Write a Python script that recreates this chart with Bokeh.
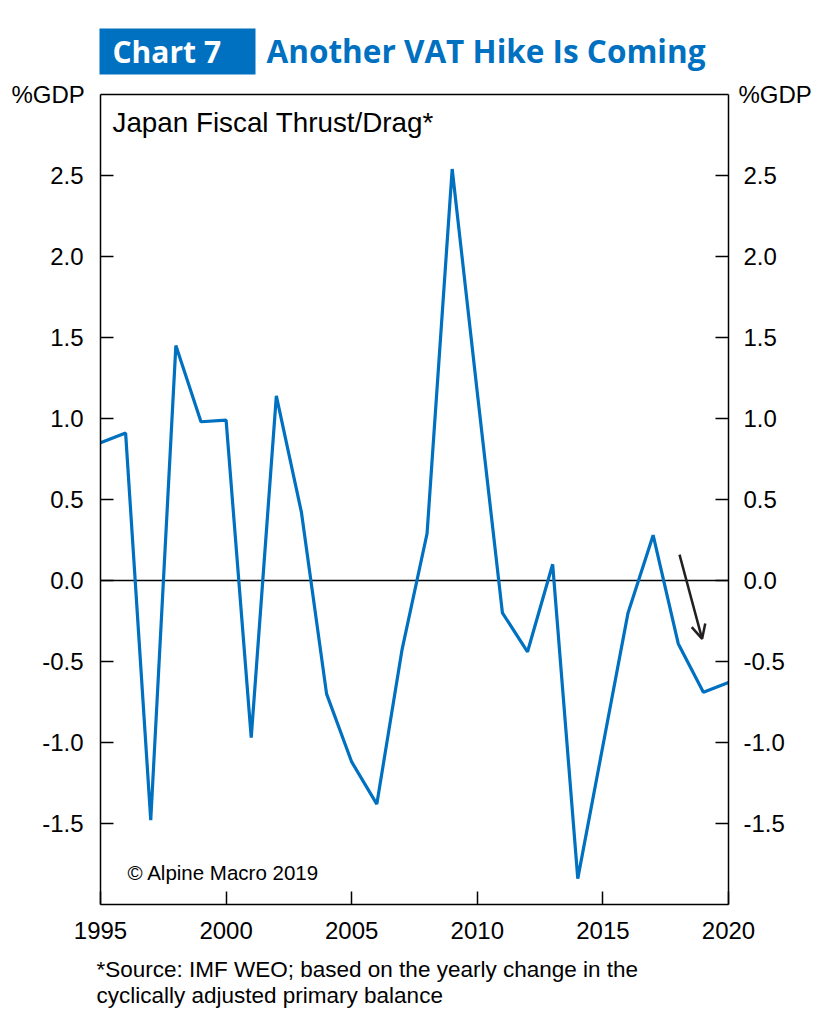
from bokeh.plotting import figure
from bokeh.models import (Range1d, LinearAxis, FixedTicker, Label, Arrow,
                          OpenHead, ColumnDataSource, BoxAnnotation)
from bokeh.embed import file_html
from bokeh.resources import INLINE

# ---------------- data ----------------
years = [1995, 1996, 1997, 1998, 1999, 2000, 2001, 2002, 2003, 2004,
         2005, 2006, 2007, 2008, 2009, 2010, 2011, 2012, 2013, 2014,
         2015, 2016, 2017, 2018, 2019, 2020]
thrust = [0.85, 0.91, -1.48, 1.45, 0.98, 0.99, -0.97, 1.14, 0.42, -0.70,
          -1.12, -1.38, -0.43, 0.29, 2.54, 1.16, -0.20, -0.44, 0.10, -1.84,
          -1.02, -0.20, 0.28, -0.39, -0.69, -0.63]
y_ticks = [-1.5, -1.0, -0.5, 0.0, 0.5, 1.0, 1.5, 2.0, 2.5]
y_tick_labels = ["-1.5", "-1.0", "-0.5", "0.0", "0.5", "1.0", "1.5", "2.0", "2.5"]
x_ticks = [1995, 2000, 2005, 2010, 2015, 2020]
x_tick_labels = ["1995", "2000", "2005", "2010", "2015", "2020"]
y_bounds = (-2.0, 3.0)
x_bounds = (1995, 2020)
arrow_start = (2018.05, 0.16)
arrow_end = (2018.95, -0.36)

title_box = "Chart 7"
title_text = "Another VAT Hike Is Coming"
chart_label = "Japan Fiscal Thrust/Drag*"
unit_label = "%GDP"
copyright_text = "\u00a9 Alpine Macro 2019"
foot1 = "*Source: IMF WEO; based on the yearly change in the"
foot2 = "cyclically adjusted primary balance"

BLUE = "#0070C0"
FONT = "Liberation Sans"
TICK_FS = "24px"

# ---------------- layout (pixel placement of the chart box) ----------------
W, H = 820, 1012
BOX_L, BOX_R, BOX_T, BOX_B = 100, 728, 94, 904
PXX = (BOX_R - BOX_L) / (x_bounds[1] - x_bounds[0])
PXY = (BOX_B - BOX_T) / (y_bounds[1] - y_bounds[0])

def X(px):
    return x_bounds[0] + (px - BOX_L) / PXX

def Y(py):
    return y_bounds[1] - (py - BOX_T) / PXY

src = ColumnDataSource(dict(x=years, y=thrust))

p = figure(width=W, height=H, output_backend="svg", toolbar_location=None,
           x_range=Range1d(X(0), X(W)), y_range=Range1d(Y(H), Y(0)),
           min_border=0, min_border_left=0, min_border_right=0,
           min_border_top=0, min_border_bottom=0)
p.grid.visible = False
p.outline_line_color = None
p.background_fill_color = "white"
p.border_fill_color = "white"

def style_axis(ax, ticks, labels, standoff, loc, bounds):
    ax.fixed_location = loc
    ax.bounds = bounds
    ax.ticker = FixedTicker(ticks=ticks)
    ax.major_label_overrides = {t: l for t, l in zip(ticks, labels)}
    ax.major_tick_in = 13
    ax.major_tick_out = 0
    ax.minor_tick_in = 0
    ax.minor_tick_out = 0
    ax.major_tick_line_color = "black"
    ax.major_tick_line_width = 1.5
    ax.axis_line_color = "black"
    ax.axis_line_width = 1.5
    ax.major_label_text_font = FONT
    ax.major_label_text_font_size = TICK_FS
    ax.major_label_text_color = "black"
    ax.major_label_standoff = standoff

style_axis(p.xaxis[0], x_ticks, x_tick_labels, 17, y_bounds[0], x_bounds)
style_axis(p.yaxis[0], y_ticks, y_tick_labels, 17, x_bounds[0], y_bounds)
right = LinearAxis()
style_axis(right, y_ticks, y_tick_labels, 15, x_bounds[1], y_bounds)
p.add_layout(right, "right")
top = LinearAxis()
style_axis(top, [], [], 0, y_bounds[1], x_bounds)
top.major_label_text_font_size = "0px"
p.add_layout(top, "above")

# zero line across the chart box
p.segment(x0=[x_bounds[0]], y0=[0], x1=[x_bounds[1]], y1=[0],
          line_color="black", line_width=1.5)

p.line("x", "y", source=src, line_color=BLUE, line_width=3.2)

p.add_layout(Arrow(x_start=arrow_start[0], y_start=arrow_start[1],
                   x_end=arrow_end[0], y_end=arrow_end[1],
                   line_color="#231F20", line_width=2.5,
                   end=OpenHead(size=14, line_color="#231F20", line_width=2.5)))

def lab(text, px, py, size, color="black", font=FONT, style="normal"):
    # py is the wanted baseline; compensate the renderer's baseline shift
    shift = 0.37 * size
    l = Label(x=X(px), y=Y(py - shift), text=text,
              text_font=font, text_font_size=f"{size}px", text_color=color,
              text_font_style=style, text_baseline="alphabetic")
    p.add_layout(l)
    return l

# header
p.add_layout(BoxAnnotation(left=X(99), right=X(255), top=Y(28), bottom=Y(74),
                           fill_color=BLUE, fill_alpha=1.0, line_color=None))
lab(title_box, 112, 62, 30, color="white", font="Open Sans", style="bold")
lab(title_text, 266, 62, 31.5, color=BLUE, font="Open Sans", style="bold")

# unit labels
lab(unit_label, 11, 103, 24)
lab(unit_label, 738, 103, 24)

# in-plot texts
lab(chart_label, 112, 132, 27.8)
lab(copyright_text, 127, 880, 20.5)

# footnotes
lab(foot1, 96, 977, 22.5)
lab(foot2, 96, 1003, 22.5)

open("out.html", "w").write(file_html(p, INLINE))
